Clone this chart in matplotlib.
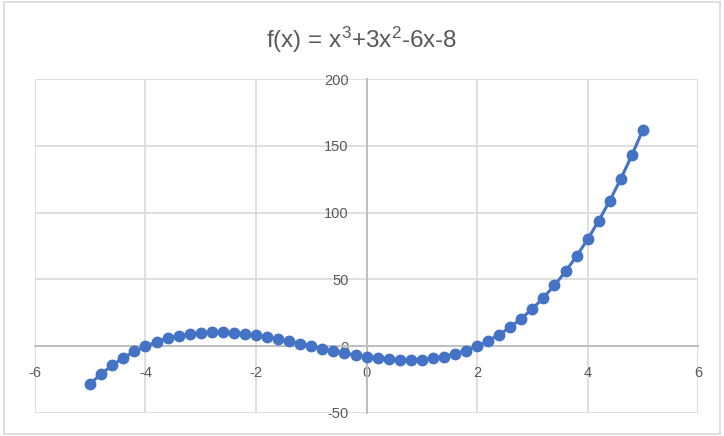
"""Scatter-with-lines chart of f(x) = x^3 + 3x^2 - 6x - 8, Excel style."""

import matplotlib.pyplot as plt
from matplotlib.patches import Rectangle

x_values = [-5.0, -4.8, -4.6, -4.4, -4.2, -4.0, -3.8, -3.6, -3.4, -3.2, -3.0,
            -2.8, -2.6, -2.4, -2.2, -2.0, -1.8, -1.6, -1.4, -1.2, -1.0,
            -0.8, -0.6, -0.4, -0.2, 0.0, 0.2, 0.4, 0.6, 0.8, 1.0,
            1.2, 1.4, 1.6, 1.8, 2.0, 2.2, 2.4, 2.6, 2.8, 3.0,
            3.2, 3.4, 3.6, 3.8, 4.0, 4.2, 4.4, 4.6, 4.8, 5.0]
y_values = [-28.0, -20.672, -14.256, -8.704, -3.968, 0.0, 3.248, 5.824, 7.776, 9.152, 10.0,
            10.368, 10.304, 9.856, 9.072, 8.0, 6.688, 5.184, 3.536, 1.792, 0.0,
            -1.792, -3.536, -5.184, -6.688, -8.0, -9.072, -9.856, -10.304, -10.368, -10.0,
            -9.152, -7.776, -5.824, -3.248, 0.0, 3.968, 8.704, 14.256, 20.672, 28.0,
            36.288, 45.584, 55.936, 67.392, 80.0, 93.808, 108.864, 125.216, 142.912, 162.0]
x_ticks = [-6, -4, -2, 0, 2, 4, 6]
y_ticks = [-50, 0, 50, 100, 150, 200]
title = "f(x) = x$^3$+3x$^2$-6x-8"

TEXT = "#595959"
GRID = "#d9d9d9"
AXIS = "#bfbfbf"
BLUE = "#4472c4"

plt.rcParams["font.family"] = ["Liberation Sans Narrow", "Liberation Sans", "DejaVu Sans"]
plt.rcParams["axes.unicode_minus"] = False
plt.rcParams["mathtext.default"] = "regular"

fig = plt.figure(figsize=(7.24, 4.36), dpi=100)
fig.patches.append(Rectangle((0.005, 0.005), 0.99, 0.99, transform=fig.transFigure,
                             fill=False, edgecolor=GRID, linewidth=1.2))
ax = fig.add_axes([0.0483, 0.0528, 0.916, 0.766])

ax.plot(x_values, y_values, color=BLUE, linewidth=2.2, marker="o", markersize=7.5,
        markerfacecolor=BLUE, markeredgecolor=BLUE, zorder=3)

ax.set_xlim(-6, 6)
ax.set_ylim(-50, 200)
ax.set_xticks(x_ticks)
ax.set_yticks(y_ticks)
ax.grid(True, color=GRID, linewidth=1.2)
ax.set_axisbelow(True)
for line in ax.get_xgridlines() + ax.get_ygridlines():
    line.set_clip_on(False)

for side in ["top", "right"]:
    ax.spines[side].set_visible(False)
ax.spines["left"].set_position(("data", 0))
ax.spines["bottom"].set_position(("data", 0))
for side in ["left", "bottom"]:
    ax.spines[side].set_color(AXIS)
    ax.spines[side].set_linewidth(1.4)
    ax.spines[side].set_zorder(2)

ax.tick_params(axis="x", length=0, pad=14, labelsize=10.5, labelcolor=TEXT)
ax.tick_params(axis="y", length=0, pad=13, labelsize=10.5, labelcolor=TEXT)

fig.text(0.5, 0.908, title, ha="center", va="center", fontsize=17.5, color=TEXT)

fig.savefig("out.png", dpi=100)
